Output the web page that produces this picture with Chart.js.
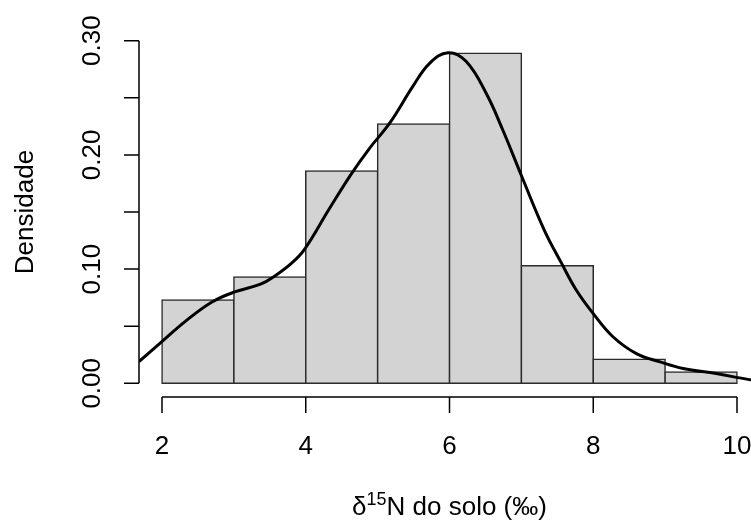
<!DOCTYPE html>
<html>
<head>
<meta charset="utf-8">
<script src="https://cdn.jsdelivr.net/npm/chart.js@4/dist/chart.umd.min.js"></script>
<style>
  html, body { margin: 0; padding: 0; background: #fff; overflow: hidden; }
  #wrap { width: 790px; height: 522px; }
</style>
</head>
<body>
<div id="wrap"><canvas id="hist" width="790" height="522"></canvas></div>
<script>
// ── Dados ──────────────────────────────────────────────────────────────────
const binMids   = [2.5, 3.5, 4.5, 5.5, 6.5, 7.5, 8.5, 9.5];
const densities = [0.073, 0.093, 0.186, 0.227, 0.289, 0.103, 0.021, 0.010];

// curva de densidade
const curveX = [1.68, 1.99, 2.32, 2.69, 3.01, 3.38, 3.57, 3.80, 3.98, 4.33, 4.63, 4.89, 5.17, 5.49,
                5.72, 5.98, 6.23, 6.51, 6.74, 7.00, 7.32, 7.56, 7.77, 8.00, 8.27, 8.60, 8.92, 9.25, 9.71, 10.17, 10.32];
const curveY = [0.019, 0.036, 0.054, 0.071, 0.080, 0.087, 0.094, 0.105, 0.117, 0.153, 0.183, 0.206, 0.228, 0.260,
                0.280, 0.2895, 0.282, 0.254, 0.222, 0.182, 0.134, 0.105, 0.081, 0.061, 0.041, 0.026, 0.019, 0.013, 0.0085, 0.0032, 0.0025];

const xTicks  = [2, 4, 6, 8, 10];
const yTicks  = [0, 0.05, 0.10, 0.15, 0.20, 0.25, 0.30];
const yLabels = ['0.00', '', '0.10', '', '0.20', '', '0.30'];

const xTitleMain = 'N do solo (‰)';
const yTitle     = 'Densidade';

const FONT = '"Liberation Sans", Arial, sans-serif';
const FS   = 26;

// ── Eixos estilo R ─────────────────────────────────────────────────────────
const rAxes = {
  id: 'rAxes',
  afterDraw(chart) {
    const { ctx, chartArea: a } = chart;
    const xs = chart.scales.x, ys = chart.scales.y;
    ctx.save();
    ctx.strokeStyle = '#000';
    ctx.fillStyle   = '#000';
    ctx.lineWidth   = 1.5;

    // eixo x
    const x0 = xs.getPixelForValue(xTicks[0]);
    const x1 = xs.getPixelForValue(xTicks[xTicks.length - 1]);
    ctx.beginPath();
    ctx.moveTo(x0, a.bottom); ctx.lineTo(x1, a.bottom);
    xTicks.forEach(v => {
      const px = xs.getPixelForValue(v);
      ctx.moveTo(px, a.bottom); ctx.lineTo(px, a.bottom + 16);
    });
    ctx.stroke();

    ctx.font = FS + 'px ' + FONT;
    ctx.textAlign = 'center';
    ctx.textBaseline = 'alphabetic';
    xTicks.forEach(v => ctx.fillText(String(v), xs.getPixelForValue(v), a.bottom + 57));

    // eixo y
    const y0 = ys.getPixelForValue(yTicks[0]);
    const y1 = ys.getPixelForValue(yTicks[yTicks.length - 1]);
    ctx.beginPath();
    ctx.moveTo(a.left, y0); ctx.lineTo(a.left, y1);
    yTicks.forEach(v => {
      const py = ys.getPixelForValue(v);
      ctx.moveTo(a.left, py); ctx.lineTo(a.left - 15, py);
    });
    ctx.stroke();

    yTicks.forEach((v, i) => {
      if (!yLabels[i]) return;
      ctx.save();
      ctx.translate(a.left - 39, ys.getPixelForValue(v));
      ctx.rotate(-Math.PI / 2);
      ctx.fillText(yLabels[i], 0, 0);
      ctx.restore();
    });

    // título y
    ctx.save();
    ctx.translate(33, (a.top + a.bottom) / 2);
    ctx.rotate(-Math.PI / 2);
    ctx.fillText(yTitle, 0, 0);
    ctx.restore();

    // título x: δ^15 N do solo (‰)
    const supFS = Math.round(FS * 0.7);
    ctx.font = FS + 'px ' + FONT;
    const wDelta = ctx.measureText('δ').width;
    const wMain  = ctx.measureText(xTitleMain).width;
    ctx.font = supFS + 'px ' + FONT;
    const wSup = ctx.measureText('15').width;
    const total = wDelta + wSup + wMain;
    let cx = (a.left + a.right) / 2 - total / 2;
    const base = a.bottom + 118;
    ctx.textAlign = 'left';
    ctx.font = FS + 'px ' + FONT;
    ctx.fillText('δ', cx, base); cx += wDelta;
    ctx.font = supFS + 'px ' + FONT;
    ctx.fillText('15', cx, base - 10); cx += wSup;
    ctx.font = FS + 'px ' + FONT;
    ctx.fillText(xTitleMain, cx, base);

    ctx.restore();
  }
};

new Chart(document.getElementById('hist'), {
  type: 'bar',
  data: {
    datasets: [
      {
        type: 'line',
        data: curveX.map((x, i) => ({ x, y: curveY[i] })),
        borderColor: '#000', borderWidth: 3,
        pointRadius: 0, tension: 0.4,
        fill: false, order: 1,
      },
      {
        type: 'bar',
        data: binMids.map((x, i) => ({ x, y: densities[i] })),
        backgroundColor: '#d3d3d3', borderColor: '#2b2b2b',
        borderWidth: 1.5, borderSkipped: false, inflateAmount: 0.75,
        barPercentage: 1, categoryPercentage: 1, order: 2,
      },
    ],
  },
  options: {
    responsive: false, animation: false,
    layout: { padding: { left: 139, right: 30, top: 27, bottom: 125 } },
    plugins: { legend: { display: false }, tooltip: { enabled: false } },
    scales: {
      x: { type: 'linear', min: 1.68, max: 10.32, offset: false, display: false },
      y: { type: 'linear', min: -0.012, max: 0.312, display: false },
    },
  },
  plugins: [rAxes],
});
</script>
</body>
</html>
